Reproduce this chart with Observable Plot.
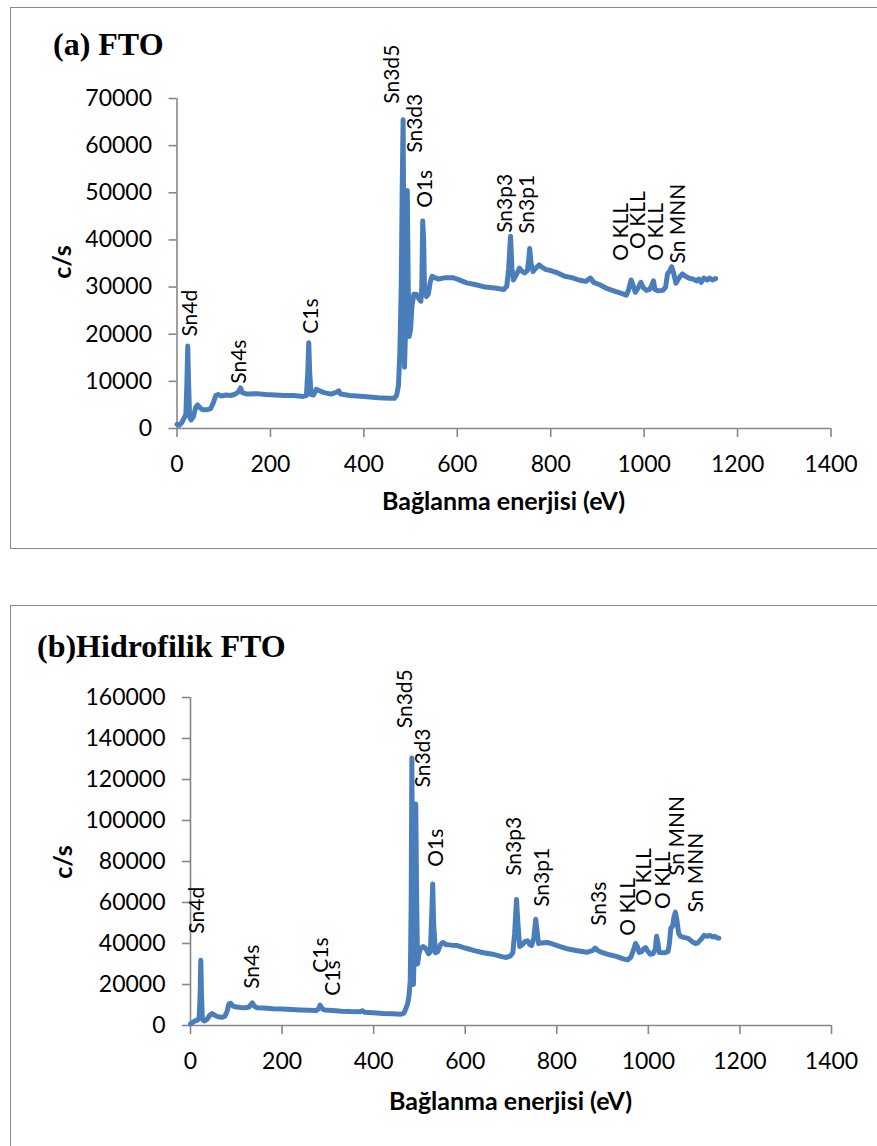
<!DOCTYPE html>
<html>
<head>
<meta charset="utf-8">
<script src="https://cdn.jsdelivr.net/npm/d3@7"></script>
<script src="https://cdn.jsdelivr.net/npm/@observablehq/plot@0.6"></script>
<style>
  html, body { margin: 0; padding: 0; background: #fff; }
  #page { position: relative; width: 877px; height: 1146px; overflow: hidden; background: #fff; }
  .box { position: absolute; border: 1.5px solid #8a8a8a; box-sizing: border-box; }
  .panel { position: absolute; left: 0; }
  .panel svg { display: block; overflow: visible; }
</style>
</head>
<body>
<div id="page">
  <div class="box" style="left:10px; top:7px; width:900px; height:542px;"></div>
  <div class="box" style="left:10px; top:605px; width:900px; height:600px;"></div>
  <div class="panel" id="panelA" style="top:0px;"></div>
  <div class="panel" id="panelB" style="top:590px;"></div>
</div>
<script>
// Survey spectrum of bare FTO: binding energy (eV) and intensity (c/s)
const ftoEnergy = [0, 5, 10, 15, 19, 21, 23, 25, 27, 30, 35, 40, 44, 50, 55, 65, 72, 78, 83, 88, 95, 105, 115, 125, 132, 136, 140, 150, 170, 190, 210, 230, 250, 270, 277, 280, 282, 284, 287, 292, 298, 305, 315, 330, 342, 346, 350, 370, 400, 430, 455, 465, 470, 474, 477, 480, 482, 484, 485.5, 487, 489, 491, 493, 495, 497, 500, 503, 507, 512, 518, 522, 524, 526, 528, 530, 534, 538, 542, 546, 552, 560, 575, 590, 600, 620, 640, 660, 680, 700, 706, 710, 714, 717, 720, 726, 733, 738, 744, 750, 753, 755, 758, 762, 768, 775, 780, 790, 800, 815, 830, 845, 860, 875, 885, 892, 905, 920, 935, 950, 962, 967, 972, 976, 981, 987, 993, 998, 1005, 1012, 1017, 1020, 1023, 1030, 1040, 1046, 1050, 1055, 1059, 1063, 1068, 1075, 1082, 1090, 1098, 1105, 1112, 1117, 1122, 1128, 1135, 1140, 1146, 1153];
const ftoCounts = [900, 700, 1200, 2200, 3000, 9000, 17500, 9000, 2500, 1800, 2500, 4500, 5000, 4300, 4000, 4000, 4200, 5500, 7000, 7200, 6900, 7100, 7000, 7300, 7800, 8600, 7600, 7300, 7400, 7200, 7100, 7000, 7000, 6800, 7000, 12000, 18200, 12000, 7200, 7100, 8300, 8000, 7600, 7300, 7700, 8000, 7300, 7000, 6800, 6500, 6400, 6400, 7000, 9000, 16000, 30000, 50000, 65500, 40000, 13000, 20000, 35000, 50500, 30000, 19500, 21000, 26000, 28500, 28500, 27500, 27000, 30000, 44000, 40000, 28500, 28000, 28500, 31000, 32300, 32000, 31700, 32000, 32000, 31700, 30900, 30500, 30000, 29800, 29500, 30200, 34000, 40800, 34000, 31500, 32500, 34000, 33400, 33000, 33500, 36000, 38200, 35000, 33300, 34000, 34700, 34300, 33700, 33500, 33000, 32300, 32000, 31500, 31200, 31900, 31000, 30500, 29700, 29200, 28700, 28300, 29500, 31500, 30500, 28900, 29800, 31000, 29900, 29300, 29500, 30500, 31300, 29500, 29200, 29300, 30000, 32800, 33500, 34300, 33000, 30800, 32000, 32800, 32200, 31800, 31700, 31300, 31700, 31000, 31900, 31500, 31900, 31500, 31800];

// Survey spectrum of hydrophilic FTO
const hidroEnergy = [0, 5, 10, 15, 19, 21, 22.5, 24, 26, 30, 36, 42, 47, 53, 60, 68, 75, 80, 84, 88, 93, 100, 110, 120, 128, 132, 135, 139, 145, 160, 180, 200, 220, 240, 260, 275, 280, 283, 286, 292, 310, 330, 350, 370, 375, 380, 400, 420, 440, 460, 466, 470, 474, 477, 480, 482, 483.5, 485, 487, 489, 491, 492, 494, 496, 499, 502, 508, 514, 520, 524, 527, 529, 531, 535, 540, 546, 551, 558, 570, 583, 600, 620, 640, 660, 680, 690, 698, 704, 708, 712, 715, 719, 725, 731, 736, 741, 745, 750, 754, 757, 760, 766, 780, 795, 810, 825, 845, 865, 878, 884, 890, 900, 915, 930, 945, 955, 962, 967, 972, 976, 980, 985, 990, 994, 998, 1004, 1010, 1015, 1018, 1021, 1024, 1035, 1043, 1046, 1049, 1053, 1056, 1059, 1062, 1066, 1070, 1078, 1087, 1095, 1103, 1108, 1115, 1122, 1128, 1134, 1140, 1145, 1150, 1154];
const hidroCounts = [800, 1500, 2300, 2500, 4000, 15000, 31800, 15000, 3000, 2200, 3000, 5000, 5800, 5000, 4300, 4000, 4500, 7000, 10500, 10800, 9500, 9000, 8800, 8700, 9000, 10200, 11000, 9600, 8700, 8500, 8200, 8000, 7800, 7600, 7400, 7300, 8200, 10000, 8600, 7600, 7300, 7000, 6800, 6700, 7200, 6500, 6200, 5900, 5700, 5500, 6000, 8000, 10500, 14000, 22000, 60000, 130500, 60000, 20000, 40000, 80000, 108000, 60000, 30000, 35000, 37500, 38500, 37500, 35000, 36000, 55000, 69000, 50000, 35500, 36000, 39500, 40500, 39500, 39200, 39000, 37800, 36500, 35500, 34800, 33600, 33200, 33800, 35500, 45000, 61500, 50000, 38500, 39500, 41000, 41300, 39500, 39000, 43000, 51800, 46000, 40000, 40300, 40500, 39500, 38300, 37300, 36500, 35700, 36500, 37700, 36500, 35500, 34500, 33700, 32500, 32000, 33500, 36500, 40000, 38500, 35600, 36000, 37500, 38000, 36500, 34800, 35000, 37000, 43500, 40000, 35600, 35500, 36000, 40000, 47500, 48500, 53000, 55300, 52000, 45000, 43500, 43000, 42500, 41000, 40000, 40300, 42000, 44000, 43500, 44000, 43200, 43500, 42800, 42600];

// Peak annotations (text anchored at its lower end)
const ftoPeakNames = ["Sn4d", "Sn4s", "C1s", "Sn3d5", "Sn3d3", "O1s", "Sn3p3", "Sn3p1", "O KLL", "O KLL", "O KLL", "Sn MNN"];
const ftoPeakEnergy = [28.5, 133.5, 288, 461, 510, 532, 703, 750, 952, 988, 1027, 1074];
const ftoPeakCounts = [19500, 9500, 20100, 68900, 58500, 46800, 41500, 41300, 35600, 38100, 35600, 35000];

const hidroPeakNames = ["Sn4d", "Sn4s", "C1s", "C1s", "Sn3d5", "Sn3d3", "O1s", "Sn3p3", "Sn3p1", "Sn3s", "O KLL", "O KLL", "O KLL", "Sn MNN", "Sn MNN"];
const hidroPeakEnergy = [15, 135, 286.6, 312.8, 470, 509, 536, 707, 769, 893, 957, 992, 1032, 1063, 1105];
const hidroPeakCounts = [44800, 17900, 25700, 14500, 145000, 116100, 77400, 73000, 57900, 48600, 43800, 58400, 56800, 73000, 55100];

// Axis ticks
const energyTicks = [0, 200, 400, 600, 800, 1000, 1200, 1400];
const ftoCountTicks = [0, 10000, 20000, 30000, 40000, 50000, 60000, 70000];
const hidroCountTicks = [0, 20000, 40000, 60000, 80000, 100000, 120000, 140000, 160000];

const lineBlue = "#4a7ebb";
const axisGray = "#878787";
const sansFont = "Lato, 'Open Sans', sans-serif";

function spectrumPanel({energy, counts, names, peakE, peakC, yTicks, height, margins, title, titleX, titleY, yLabelX, yLabelY, xTitleY}) {
  const series = energy.map((e, i) => ({e, c: counts[i]}));
  const peaks = names.map((n, i) => ({name: n, e: peakE[i], c: peakC[i]}));
  const fmt = d3.format("d");
  const chart = Plot.plot({
    width: 877,
    height,
    ...margins,
    x: {domain: [0, 1400]},
    y: {domain: [0, yTicks[yTicks.length - 1]]},
    style: {fontFamily: sansFont, background: "transparent", overflow: "visible", color: "#000"},
    marks: [
      Plot.ruleY([0], {stroke: axisGray, strokeWidth: 1.6}),
      Plot.ruleX([0], {stroke: axisGray, strokeWidth: 1.6}),
      Plot.axisX(energyTicks, {tickSize: 9, tickPadding: 18, fontSize: 23, stroke: axisGray, strokeWidth: 1.6, fill: "#000", tickFormat: fmt, label: null}),
      Plot.axisY(yTicks, {tickSize: 8, tickPadding: 17, fontSize: 23, stroke: axisGray, strokeWidth: 1.6, fill: "#000", tickFormat: fmt, label: null}),
      Plot.line(series, {x: "e", y: "c", stroke: lineBlue, strokeWidth: 5, strokeLinejoin: "round", strokeLinecap: "round"}),
      Plot.text(peaks, {x: "e", y: "c", text: "name", rotate: -90, textAnchor: "start", fontSize: 21, fill: "#000"})
    ]
  });
  const svg = d3.select(chart);
  svg.append("text")
    .attr("x", titleX).attr("y", titleY)
    .attr("text-anchor", "start")
    .attr("font-family", "'Liberation Serif', 'Times New Roman', serif")
    .attr("font-weight", "bold").attr("font-size", 32).attr("fill", "#000")
    .text(title);
  svg.append("text")
    .attr("transform", `translate(${yLabelX},${yLabelY}) rotate(-90)`)
    .attr("text-anchor", "middle")
    .attr("font-family", sansFont).attr("font-weight", "bold").attr("font-size", 25).attr("fill", "#000")
    .text("c/s");
  const frameMid = (margins.marginLeft + 877 - margins.marginRight) / 2;
  svg.append("text")
    .attr("x", frameMid).attr("y", xTitleY)
    .attr("text-anchor", "middle")
    .attr("font-family", sansFont).attr("font-weight", "bold").attr("font-size", 25).attr("fill", "#000")
    .text("Bağlanma enerjisi (eV)");
  return chart;
}

document.getElementById("panelA").appendChild(spectrumPanel({
  energy: ftoEnergy, counts: ftoCounts,
  names: ftoPeakNames, peakE: ftoPeakEnergy, peakC: ftoPeakCounts,
  yTicks: ftoCountTicks, height: 548,
  margins: {marginLeft: 176.5, marginRight: 46.5, marginTop: 98, marginBottom: 120},
  title: "(a) FTO", titleX: 53, titleY: 55,
  yLabelX: 71, yLabelY: 262, xTitleY: 510
}));

document.getElementById("panelB").appendChild(spectrumPanel({
  energy: hidroEnergy, counts: hidroCounts,
  names: hidroPeakNames, peakE: hidroPeakEnergy, peakC: hidroPeakCounts,
  yTicks: hidroCountTicks, height: 556,
  margins: {marginLeft: 190, marginRight: 46, marginTop: 107, marginBottom: 121},
  title: "(b)Hidrofilik FTO", titleX: 37, titleY: 67,
  yLabelX: 71.5, yLabelY: 272, xTitleY: 520
}));
</script>
</body>
</html>
